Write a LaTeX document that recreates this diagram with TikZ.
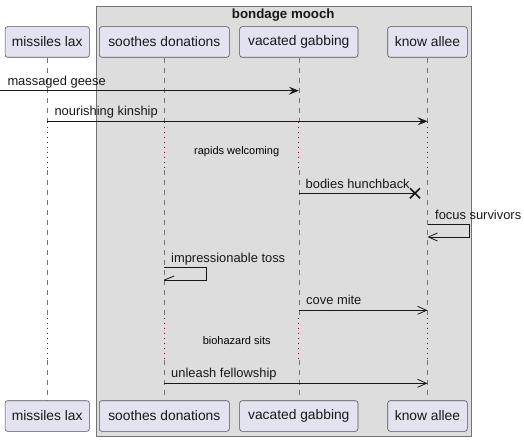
\documentclass[tikz,border=0pt]{standalone}
\usepackage{fontspec}
\setmainfont{Liberation Sans}
\usetikzlibrary{arrows.meta}
\definecolor{partfill}{HTML}{E2E2F0}
\definecolor{grpfill}{HTML}{DDDDDD}
\definecolor{delayred}{HTML}{A80036}
\definecolor{ink}{HTML}{181818}
\begin{document}
\begin{tikzpicture}[x=1pt,y=-1pt,
  part/.style={draw=ink!75, fill=partfill, rounded corners=2.5pt, line width=0.6pt,
    minimum height=30.6pt, inner sep=0pt, font=\fontsize{13.8}{15}\selectfont, text=ink},
  life/.style={draw=ink!60, dash pattern=on 5pt off 5pt, line width=0.6pt},
  delayline/.style={draw=delayred, dash pattern=on 1pt off 4pt, line width=0.8pt},
  msg/.style={draw=ink, line width=0.8pt},
  lbl/.style={anchor=base west, inner sep=0pt, font=\fontsize{12.9}{14}\selectfont, text=ink},
  dlbl/.style={inner sep=0pt, font=\fontsize{11}{12}\selectfont, text=black},
  filledtip/.style={-{Stealth[length=10pt,width=8pt,inset=4pt]}},
  opentip/.style={-{Straight Barb[length=9pt,width=8pt,line width=0.8pt]}},
]
\useasboundingbox (0,0) rectangle (524,441);
% group
\node[draw=gray!90!black, fill=grpfill, line width=0.8pt, minimum width=375.5pt, minimum height=429pt,
  inner sep=0pt, anchor=north west] (grp) at (95.5,6.5) {};
\node[font=\bfseries\fontsize{13.3}{14}\selectfont, text=ink] (grptitle) at (283.25,14.8) {bondage mooch};
% participants top
\node[part, minimum width=84.3pt] (mlT) at (47.2,42) {missiles lax};
\node[part, minimum width=130pt] (sdT) at (164.3,42) {soothes donations};
\node[part, minimum width=118.3pt] (vgT) at (298.8,42) {vacated gabbing};
\node[part, minimum width=79.6pt] (kaT) at (427.5,42) {know allee};
% participants bottom
\node[part, minimum width=84.3pt] (mlB) at (47.2,416) {missiles lax};
\node[part, minimum width=130pt] (sdB) at (164.3,416) {soothes donations};
\node[part, minimum width=118.3pt] (vgB) at (298.8,416) {vacated gabbing};
\node[part, minimum width=79.6pt] (kaB) at (427.5,416) {know allee};
% lifelines
\foreach \p in {ml,sd,vg,ka}{
  \coordinate (\p1) at (\p T.south |- 0,121.5);
  \coordinate (\p2) at (\p T.south |- 0,170);
  \coordinate (\p3) at (\p T.south |- 0,317.5);
  \coordinate (\p4) at (\p T.south |- 0,359.5);
  \draw[life] (\p T.south) -- (\p1);
  \draw[delayline] (\p1) -- (\p2);
  \draw[life] (\p2) -- (\p3);
  \draw[delayline] (\p3) -- (\p4);
  \draw[life] (\p4) -- (\p B.north);
}
% message 1
\coordinate (m1s) at (0,90.7);
\coordinate (m1e) at (vgT.south |- 0,90.7);
\draw[msg, filledtip] (m1s) -- (m1e);
\node[lbl] (m1l) at (7.3,85.2) {massaged geese};
% message 2
\coordinate (m2s) at (mlT.south |- 0,121.3);
\coordinate (m2e) at (kaT.south |- 0,121.3);
\draw[msg, filledtip] (m2s) -- (m2e);
\node[lbl] (m2l) at (54.3,115.8) {nourishing kinship};
% delay 1
\node[dlbl] (d1) at (236.7,151.7) {rapids welcoming};
% message 3 (destroy)
\coordinate (m3s) at (vgT.south |- 0,193.3);
\coordinate (m3x) at (415,193.3);
\draw[msg] (m3s) -- (m3x);
\draw[ink, line width=1.6pt] ([shift={(-5,-5)}]m3x) -- ([shift={(5,5)}]m3x)
  ([shift={(-5,5)}]m3x) -- ([shift={(5,-5)}]m3x);
\node[lbl] (m3l) at (305.5,188) {bodies hunchback};
% message 4 (self on know allee)
\coordinate (m4s) at (kaT.south |- 0,224.7);
\coordinate (m4a) at (469.3,224.7);
\coordinate (m4b) at (469.3,237);
\coordinate (m4e) at (kaT.south |- 0,237);
\draw[msg, opentip] (m4s) -- (m4a) -- (m4b) -- (m4e);
\node[lbl] (m4l) at (435,219) {focus survivors};
% message 5 (self on soothes donations)
\coordinate (m5s) at (sdT.south |- 0,267.3);
\coordinate (m5a) at (206.7,267.3);
\coordinate (m5b) at (206.7,280);
\coordinate (m5e) at (sdT.south |- 0,280);
\draw[msg] (m5s) -- (m5a) -- (m5b) -- (m5e);
\draw[msg] (m5e) -- ++(10,-4);
\node[lbl] (m5l) at (171,262) {impressionable toss};
% message 6
\coordinate (m6s) at (vgT.south |- 0,310.3);
\coordinate (m6e) at (kaT.south |- 0,310.3);
\draw[msg, opentip] (m6s) -- (m6e);
\node[lbl] (m6l) at (306,304.8) {cove mite};
% delay 2
\node[dlbl] (d2) at (236.7,340.3) {biohazard sits};
% message 7
\coordinate (m7s) at (sdT.south |- 0,383.3);
\coordinate (m7e) at (kaT.south |- 0,383.3);
\draw[msg, opentip] (m7s) -- (m7e);
\node[lbl] (m7l) at (171,377.8) {unleash fellowship};
\end{tikzpicture}
\end{document}
